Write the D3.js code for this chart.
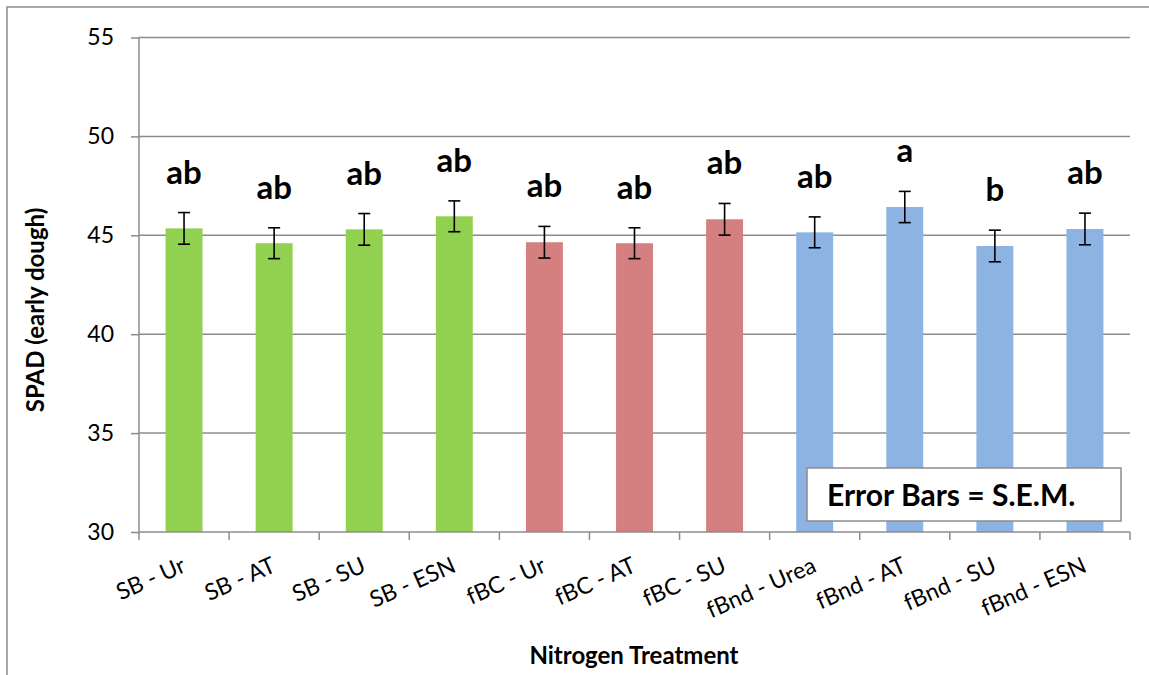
<!DOCTYPE html>
<html><head><meta charset="utf-8">
<script src="https://cdn.jsdelivr.net/npm/d3@7"></script>
<style>html,body{margin:0;padding:0;background:#fff;}svg{display:block;}</style>
</head><body>
<svg id="chart" width="1149" height="675"></svg>
<script>
const categories = ["SB - Ur","SB - AT","SB - SU","SB - ESN","fBC - Ur","fBC - AT","fBC - SU","fBnd - Urea","fBnd - AT","fBnd - SU","fBnd - ESN"];
const groups = ["SB","SB","SB","SB","fBC","fBC","fBC","fBnd","fBnd","fBnd","fBnd"];
const means = [45.35, 44.6, 45.3, 45.96, 44.65, 44.6, 45.81, 45.15, 46.43, 44.46, 45.32];
const sem = [0.8, 0.78, 0.8, 0.78, 0.8, 0.78, 0.8, 0.78, 0.79, 0.8, 0.8];
const letters = ["ab","ab","ab","ab","ab","ab","ab","ab","a","b","ab"];
const yTicks = [30, 35, 40, 45, 50, 55];
const groupColors = {SB: "#92D050", fBC: "#D48080", fBnd: "#8DB3E2"};

const svg = d3.select("#chart");
const L = 139, R = 1130, T = 37.5, B = 532;
const font = "Lato, 'Open Sans', sans-serif";
const grid = "#8c8c8c";

// outer frame
svg.append("rect").attr("x", 7).attr("y", 7).attr("width", 1160).attr("height", 700)
  .attr("fill", "none").attr("stroke", "#8c8c8c").attr("stroke-width", 1.5);

const x = d3.scaleBand().domain(categories).range([L, R]).paddingInner(0.59).paddingOuter(0.295);
const y = d3.scaleLinear().domain([30, 55]).range([B, T]);

// gridlines
svg.append("g").selectAll("line").data(yTicks.filter(d => d > 30)).join("line")
  .attr("x1", L).attr("x2", R).attr("y1", d => y(d)).attr("y2", d => y(d))
  .attr("stroke", grid).attr("stroke-width", 1.5);

// bars
svg.append("g").selectAll("rect").data(categories).join("rect")
  .attr("x", d => x(d)).attr("width", x.bandwidth())
  .attr("y", (d, i) => y(means[i])).attr("height", (d, i) => y(30) - y(means[i]))
  .attr("fill", (d, i) => groupColors[groups[i]]);

// y axis
const yAxis = d3.axisLeft(y).tickValues(yTicks).tickSize(8).tickPadding(17);
const gy = svg.append("g").attr("transform", `translate(${L},0)`).call(yAxis);
gy.select(".domain").attr("stroke", grid).attr("stroke-width", 1.5).attr("d", `M0,${B}V${T}`);
gy.selectAll(".tick line").attr("stroke", grid).attr("stroke-width", 1.5);
gy.selectAll(".tick text").attr("font-family", font).attr("font-size", 23).attr("fill", "#000");

// x axis line and ticks at band boundaries
const boundaries = categories.map(c => x(c) - x.step() * x.paddingInner() / 2).concat([R]);
svg.append("line").attr("x1", L).attr("x2", R).attr("y1", B).attr("y2", B).attr("stroke", grid).attr("stroke-width", 1.5);
svg.append("g").selectAll("line").data(boundaries).join("line")
  .attr("x1", d => d).attr("x2", d => d).attr("y1", B).attr("y2", B + 8)
  .attr("stroke", grid).attr("stroke-width", 1.5);

// x tick labels
svg.append("g").selectAll("text").data(categories).join("text")
  .attr("transform", d => `translate(${x(d) + x.bandwidth() / 2 + 3},${B + 39}) rotate(-24)`)
  .attr("text-anchor", "end").attr("font-family", font).attr("font-size", 23).attr("fill", "#000")
  .text(d => d);

// error bars
const eb = svg.append("g").attr("stroke", "#000").attr("stroke-width", 1.6);
categories.forEach((c, i) => {
  const cx = x(c) + x.bandwidth() / 2;
  const y1 = y(means[i] + sem[i]), y2 = y(means[i] - sem[i]);
  eb.append("line").attr("x1", cx).attr("x2", cx).attr("y1", y1).attr("y2", y2);
  eb.append("line").attr("x1", cx - 6).attr("x2", cx + 6).attr("y1", y1).attr("y2", y1);
  eb.append("line").attr("x1", cx - 6).attr("x2", cx + 6).attr("y1", y2).attr("y2", y2);
});

// significance letters
svg.append("g").selectAll("text").data(categories).join("text")
  .attr("x", d => x(d) + x.bandwidth() / 2)
  .attr("y", (d, i) => y(means[i] + sem[i]) - 29)
  .attr("text-anchor", "middle").attr("font-family", font).attr("font-weight", "bold")
  .attr("font-size", 33).attr("fill", "#000").text((d, i) => letters[i]);

// axis titles
svg.append("text").attr("transform", `translate(44,310) rotate(-90)`).attr("text-anchor", "middle")
  .attr("font-family", font).attr("font-weight", "bold").attr("font-size", 24).attr("fill", "#000")
  .text("SPAD (early dough)");
svg.append("text").attr("x", 634).attr("y", 664).attr("text-anchor", "middle")
  .attr("font-family", font).attr("font-weight", "bold").attr("font-size", 24).attr("fill", "#000")
  .text("Nitrogen Treatment");

// note box
svg.append("rect").attr("x", 807).attr("y", 468).attr("width", 314).attr("height", 53)
  .attr("fill", "#fff").attr("stroke", "#8c8c8c").attr("stroke-width", 1.5);
svg.append("text").attr("x", 827).attr("y", 506).attr("font-family", font).attr("font-weight", "bold")
  .attr("font-size", 30).attr("fill", "#000").text("Error Bars = S.E.M.");
</script>
</body></html>
